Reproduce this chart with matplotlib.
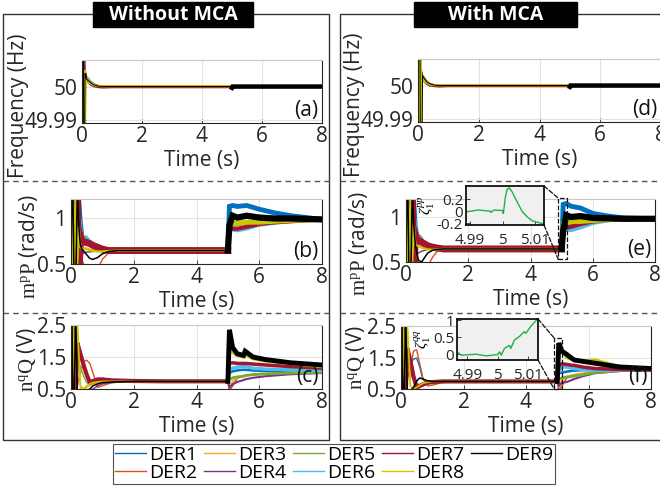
import matplotlib
matplotlib.use('Agg')
import matplotlib.pyplot as plt
from matplotlib.patches import Rectangle, ConnectionPatch
from matplotlib.lines import Line2D

plt.rcParams['font.family'] = ['Open Sans', 'DejaVu Sans']
plt.rcParams['mathtext.fontset'] = 'custom'
plt.rcParams['mathtext.rm'] = 'Liberation Serif'
plt.rcParams['mathtext.it'] = 'Liberation Serif:italic'

# ---------------- data ----------------
der_names = ['DER1', 'DER2', 'DER3', 'DER4', 'DER5', 'DER6', 'DER7', 'DER8', 'DER9']
der_colors = ['#0072BD', '#D95319', '#EDB120', '#7E2F8E', '#77AC30',
              '#4DBEEE', '#A2142F', '#C8C800', '#000000']

t_freq = [0, 0.02, 0.04, 0.06, 0.08, 0.10, 0.12, 0.15, 0.2, 0.25, 0.3, 0.4, 0.55, 0.7, 1.0, 4.98, 5.0, 5.02, 5.6, 8.0]

freq_without = [
    [50.0, 50.03, 49.97, 50.02, 49.99, 50.006, 50.004, 50.003, 50.0025, 50.002, 50.0015, 50.0008, 50.0003, 50.0, 50.0, 50.0, 50.0, 49.9998, 50.0, 50.0],
    [50.0, 49.97, 50.03, 49.98, 50.01, 50.004, 50.003, 50.0025, 50.002, 50.0015, 50.001, 50.0006, 50.0002, 50.0, 50.0, 50.0, 50.0, 50.0001, 50.0, 50.0],
    [50.0, 50.02, 49.975, 50.02, 49.995, 50.005, 50.004, 50.003, 50.0025, 50.002, 50.0012, 50.0006, 50.0002, 50.0001, 50.0001, 50.0001, 50.0, 49.9997, 50.0, 50.0],
    [50.0, 49.975, 50.025, 49.985, 50.008, 50.003, 50.003, 50.002, 50.0018, 50.0014, 50.001, 50.0005, 50.0002, 50.0, 50.0, 50.0, 50.0, 50.0, 50.0, 50.0],
    [50.0, 50.025, 49.98, 50.015, 49.995, 50.004, 50.0035, 50.003, 50.0024, 50.0018, 50.0012, 50.0006, 50.0002, 50.0, 50.0, 50.0, 50.0, 50.0002, 50.0, 50.0],
    [50.0, 49.98, 50.03, 49.99, 50.03, 50.005, 50.003, 50.0028, 50.0022, 50.0016, 50.001, 50.0005, 50.0002, 50.0, 50.0, 50.0, 50.0, 49.9998, 50.0, 50.0],
    [50.0, 50.02, 49.98, 50.01, 49.99, 50.004, 50.002, 50.002, 50.0015, 50.001, 50.0006, 50.0002, 49.9999, 49.9998, 49.9999, 49.9999, 50.0, 50.0, 50.0, 50.0],
    [49.97, 49.97, 50.003, 49.97, 50.005, 49.985, 50.002, 50.002, 50.0015, 50.001, 50.0008, 50.0004, 50.0002, 50.0001, 50.0001, 50.0001, 50.0, 49.9997, 50.0, 50.0],
    [50.03, 50.02, 50.03, 49.97, 49.97, 50.004, 50.003, 50.0022, 50.0018, 50.0015, 50.001, 50.0005, 50.0001, 50.0, 50.0, 50.0, 49.9996, 50.0, 50.0, 50.0],
]

freq_with = [
    [50.0, 50.03, 49.97, 50.02, 49.99, 50.006, 50.004, 50.003, 50.0025, 50.0018, 50.0012, 50.0006, 50.0002, 50.0, 50.0, 50.0, 50.0, 49.9998, 50.0, 50.0],
    [50.0, 49.97, 50.03, 49.98, 50.01, 50.004, 50.003, 50.0025, 50.002, 50.0014, 50.0009, 50.0005, 50.0001, 50.0, 50.0, 50.0, 50.0, 50.0001, 50.0, 50.0],
    [50.03, 50.02, 49.975, 50.03, 49.97, 50.005, 50.004, 50.003, 50.0025, 50.0018, 50.0011, 50.0005, 50.0001, 50.0001, 50.0001, 50.0001, 50.0, 49.9997, 50.0, 50.0],
    [50.0, 49.975, 50.025, 49.985, 50.008, 50.003, 50.003, 50.002, 50.0018, 50.0013, 50.0009, 50.0004, 50.0001, 50.0, 50.0, 50.0, 50.0, 50.0, 50.0, 50.0],
    [50.0, 50.025, 49.98, 50.015, 49.995, 50.004, 50.0035, 50.003, 50.0024, 50.0017, 50.0011, 50.0005, 50.0001, 50.0, 50.0, 50.0, 50.0, 50.0002, 50.0, 50.0],
    [50.0, 49.98, 50.03, 49.99, 50.03, 50.005, 50.003, 50.0028, 50.0022, 50.0015, 50.0009, 50.0004, 50.0001, 50.0, 50.0, 50.0, 50.0, 49.9998, 50.0, 50.0],
    [50.0, 50.02, 49.98, 50.01, 49.99, 50.004, 50.002, 50.002, 50.0015, 50.001, 50.0005, 50.0001, 49.9999, 49.9998, 49.9999, 49.9999, 50.0, 50.0, 50.0, 50.0],
    [49.97, 49.97, 50.03, 49.97, 50.03, 49.97, 50.002, 50.002, 50.0015, 50.001, 50.0007, 50.0003, 50.0001, 50.0001, 50.0001, 50.0001, 50.0, 49.9997, 50.0, 50.0],
    [50.03, 50.02, 50.03, 50.03, 49.97, 49.97, 49.97, 50.003, 50.0022, 50.0016, 50.001, 50.0005, 50.0001, 50.0, 50.0, 50.0, 49.9996, 50.0, 50.0, 50.0],
]

t_p = [0, 0.03, 0.06, 0.1, 0.15, 0.2, 0.25, 0.3, 0.35, 0.4, 0.5, 0.6, 0.7, 0.85, 1.0, 1.2, 1.5, 2.0, 3.0, 4.0, 4.95, 5.0,
       5.05, 5.15, 5.3, 5.6, 6.0, 6.5, 7.0, 7.5, 8.0]

mp_without = [
    [0.5, 1.3, 0.3, 1.25, 0.2, 1.3, 0.3, 1.2, 0.95, 0.8, 0.78, 0.74, 0.7, 0.67, 0.655, 0.65, 0.645, 0.645, 0.645, 0.645, 0.645, 0.645,
     1.12, 1.13, 1.12, 1.13, 1.09, 1.05, 1.02, 1.0, 0.98],
    [0.5, 0.2, 1.3, 0.3, 1.25, 0.2, 1.3, 0.5, 0.55, 0.5, 0.45, 0.42, 0.4, 0.45, 0.55, 0.62, 0.64, 0.645, 0.645, 0.645, 0.645, 0.645,
     0.93, 0.95, 0.95, 0.96, 0.97, 0.97, 0.975, 0.98, 0.98],
    [0.5, 1.25, 0.25, 1.3, 0.3, 1.1, 0.5, 0.75, 0.7, 0.68, 0.67, 0.66, 0.655, 0.65, 0.65, 0.648, 0.645, 0.645, 0.645, 0.645, 0.645, 0.645,
     0.92, 0.94, 0.95, 0.95, 0.96, 0.965, 0.97, 0.975, 0.98],
    [0.5, 0.3, 1.2, 0.2, 1.3, 0.4, 1.0, 0.55, 0.6, 0.62, 0.63, 0.63, 0.635, 0.64, 0.64, 0.645, 0.645, 0.645, 0.645, 0.645, 0.645, 0.645,
     0.9, 0.92, 0.93, 0.94, 0.95, 0.96, 0.97, 0.975, 0.98],
    [0.5, 1.2, 0.2, 1.3, 0.35, 1.25, 0.4, 0.9, 0.8, 0.79, 0.78, 0.75, 0.71, 0.68, 0.665, 0.65, 0.645, 0.645, 0.645, 0.645, 0.645, 0.645,
     0.9, 0.91, 0.92, 0.93, 0.95, 0.96, 0.97, 0.975, 0.98],
    [0.5, 0.25, 1.3, 0.35, 1.2, 0.3, 1.3, 1.0, 0.85, 0.8, 0.8, 0.76, 0.71, 0.68, 0.665, 0.65, 0.645, 0.645, 0.645, 0.645, 0.645, 0.645,
     0.88, 0.87, 0.86, 0.88, 0.92, 0.94, 0.96, 0.97, 0.98],
    [0.5, 1.3, 0.3, 1.2, 0.25, 1.2, 0.35, 0.8, 0.75, 0.74, 0.73, 0.72, 0.7, 0.68, 0.66, 0.645, 0.645, 0.645, 0.645, 0.645, 0.645, 0.645,
     0.89, 0.88, 0.88, 0.9, 0.93, 0.95, 0.96, 0.97, 0.98],
    [0.5, 0.2, 1.25, 0.25, 1.3, 0.5, 0.9, 0.68, 0.67, 0.66, 0.66, 0.65, 0.64, 0.635, 0.635, 0.64, 0.645, 0.645, 0.645, 0.645, 0.645, 0.645,
     0.93, 0.94, 0.94, 0.95, 0.95, 0.96, 0.97, 0.975, 0.98],
    [0.5, 1.3, 1.3, 0.2, 0.2, 1.3, 0.9, 0.7, 0.66, 0.64, 0.6, 0.56, 0.55, 0.57, 0.61, 0.635, 0.645, 0.645, 0.645, 0.645, 0.645, 0.645,
     0.92, 1.02, 1.0, 1.02, 1.0, 0.99, 0.99, 0.985, 0.98],
]

mp_with = [
    [0.5, 1.3, 0.3, 1.25, 0.2, 1.3, 0.3, 1.2, 0.9, 0.8, 0.76, 0.72, 0.68, 0.66, 0.65, 0.645, 0.645, 0.645, 0.645, 0.645, 0.645, 0.645,
     1.14, 1.15, 1.12, 1.1, 1.04, 1.01, 0.99, 0.985, 0.98],
    [0.5, 0.2, 1.3, 0.3, 1.25, 0.2, 1.3, 0.5, 0.52, 0.5, 0.46, 0.42, 0.45, 0.55, 0.62, 0.64, 0.645, 0.645, 0.645, 0.645, 0.645, 0.645,
     0.93, 0.95, 0.96, 0.97, 0.975, 0.98, 0.98, 0.98, 0.98],
    [0.5, 1.25, 0.25, 1.3, 0.3, 1.1, 0.5, 0.75, 0.7, 0.68, 0.66, 0.655, 0.65, 0.648, 0.645, 0.645, 0.645, 0.645, 0.645, 0.645, 0.645, 0.645,
     0.92, 0.94, 0.95, 0.96, 0.97, 0.975, 0.98, 0.98, 0.98],
    [0.5, 0.3, 1.2, 0.2, 1.3, 0.4, 1.0, 0.55, 0.58, 0.6, 0.62, 0.63, 0.64, 0.645, 0.645, 0.645, 0.645, 0.645, 0.645, 0.645, 0.645, 0.645,
     0.9, 0.92, 0.94, 0.95, 0.965, 0.975, 0.98, 0.98, 0.98],
    [0.5, 1.2, 0.2, 1.3, 0.35, 1.25, 0.4, 0.9, 0.82, 0.81, 0.78, 0.72, 0.68, 0.66, 0.65, 0.645, 0.645, 0.645, 0.645, 0.645, 0.645, 0.645,
     0.9, 0.91, 0.92, 0.94, 0.96, 0.97, 0.98, 0.98, 0.98],
    [0.5, 0.25, 1.3, 0.35, 1.2, 0.3, 1.3, 1.0, 0.85, 0.8, 0.76, 0.72, 0.68, 0.66, 0.65, 0.645, 0.645, 0.645, 0.645, 0.645, 0.645, 0.645,
     0.87, 0.86, 0.85, 0.88, 0.93, 0.96, 0.975, 0.98, 0.98],
    [0.5, 1.3, 0.3, 1.2, 0.25, 1.2, 0.35, 0.8, 0.75, 0.74, 0.72, 0.7, 0.68, 0.665, 0.655, 0.645, 0.645, 0.645, 0.645, 0.645, 0.645, 0.645,
     0.88, 0.88, 0.89, 0.92, 0.95, 0.97, 0.975, 0.98, 0.98],
    [0.5, 0.2, 1.25, 0.25, 1.3, 0.5, 0.9, 0.7, 0.68, 0.68, 0.66, 0.65, 0.64, 0.635, 0.64, 0.645, 0.645, 0.645, 0.645, 0.645, 0.645, 0.645,
     0.93, 0.94, 0.95, 0.95, 0.96, 0.97, 0.98, 0.98, 0.98],
    [0.5, 1.3, 1.3, 0.2, 0.2, 1.3, 0.9, 0.7, 0.6, 0.52, 0.5, 0.55, 0.6, 0.63, 0.64, 0.645, 0.645, 0.645, 0.645, 0.645, 0.645, 0.645,
     0.85, 1.02, 1.0, 1.01, 0.99, 0.985, 0.98, 0.98, 0.98],
]

t_q = [0, 0.03, 0.06, 0.1, 0.15, 0.2, 0.3, 0.4, 0.5, 0.6, 0.7, 0.85, 1.0, 1.3, 2.0, 3.0, 4.0, 4.95, 5.0,
       5.05, 5.15, 5.3, 5.5, 5.55, 5.8, 6.2, 7.0, 8.0]

nq_without = [
    [0.5, 2.8, 0.3, 2.7, 0.3, 1.7, 1.55, 1.25, 1.0, 0.8, 0.72, 0.7, 0.72, 0.74, 0.74, 0.74, 0.74, 0.74, 0.74,
     1.0, 1.05, 1.08, 1.1, 1.1, 1.08, 1.06, 1.05, 1.05],
    [0.5, 0.3, 2.8, 0.3, 2.7, 0.6, 1.0, 1.35, 1.4, 1.3, 1.0, 0.55, 0.6, 0.7, 0.74, 0.74, 0.74, 0.74, 0.74,
     0.45, 0.6, 0.84, 0.9, 0.92, 0.95, 0.97, 1.0, 1.05],
    [0.5, 2.7, 0.3, 2.8, 0.3, 2.6, 0.5, 0.45, 0.55, 0.6, 0.65, 0.68, 0.7, 0.72, 0.74, 0.74, 0.74, 0.74, 0.74,
     0.5, 0.75, 0.85, 0.9, 0.92, 0.95, 0.98, 1.02, 1.05],
    [0.5, 0.3, 2.7, 0.3, 2.8, 0.4, 0.45, 0.5, 0.45, 0.45, 0.5, 0.6, 0.66, 0.7, 0.74, 0.74, 0.74, 0.74, 0.74,
     0.55, 0.65, 0.72, 0.78, 0.8, 0.85, 0.9, 0.96, 1.0],
    [0.5, 2.8, 0.3, 2.8, 0.4, 1.4, 1.2, 0.9, 0.7, 0.65, 0.68, 0.72, 0.74, 0.74, 0.74, 0.74, 0.74, 0.74, 0.74,
     0.8, 0.85, 0.88, 0.9, 0.92, 0.95, 0.97, 1.0, 1.02],
    [0.5, 0.3, 2.8, 0.4, 2.7, 1.75, 1.7, 1.4, 1.0, 0.75, 0.7, 0.72, 0.74, 0.74, 0.74, 0.74, 0.74, 0.74, 0.74,
     1.1, 1.15, 1.18, 1.2, 1.2, 1.15, 1.12, 1.1, 1.08],
    [0.5, 2.8, 0.3, 2.7, 0.3, 1.95, 1.6, 1.25, 0.95, 0.7, 0.75, 0.8, 0.8, 0.77, 0.75, 0.74, 0.74, 0.74, 0.74,
     1.3, 1.32, 1.3, 1.3, 1.3, 1.28, 1.25, 1.2, 1.15],
    [0.5, 0.3, 2.7, 0.3, 2.8, 2.6, 0.6, 0.5, 0.6, 0.66, 0.7, 0.72, 0.74, 0.74, 0.74, 0.74, 0.74, 0.74, 0.74,
     1.7, 1.65, 1.55, 1.5, 1.58, 1.45, 1.38, 1.3, 1.2],
    [2.8, 2.8, 0.3, 0.3, 2.8, 0.3, 0.4, 0.45, 0.45, 0.5, 0.6, 0.66, 0.7, 0.72, 0.74, 0.74, 0.74, 0.74, 0.74,
     2.35, 1.8, 1.6, 1.55, 1.68, 1.5, 1.42, 1.32, 1.25],
]

nq_with = [
    [0.5, 2.8, 0.3, 2.7, 0.3, 1.2, 1.3, 1.45, 1.48, 1.2, 0.8, 0.7, 0.72, 0.74, 0.74, 0.74, 0.74, 0.74, 0.74,
     1.0, 1.02, 1.05, 1.08, 1.08, 1.1, 1.1, 1.1, 1.1],
    [0.5, 0.3, 2.8, 0.3, 2.7, 0.8, 1.2, 1.7, 1.75, 1.3, 0.85, 0.6, 0.62, 0.7, 0.74, 0.74, 0.74, 0.74, 0.74,
     0.45, 0.6, 0.85, 0.92, 0.94, 0.97, 1.02, 1.08, 1.1],
    [0.5, 2.7, 0.3, 2.8, 0.3, 2.5, 0.6, 0.5, 0.55, 0.6, 0.66, 0.7, 0.72, 0.74, 0.74, 0.74, 0.74, 0.74, 0.74,
     0.55, 0.8, 0.9, 0.95, 0.96, 1.0, 1.05, 1.08, 1.1],
    [0.5, 0.3, 2.7, 0.3, 2.8, 0.4, 0.45, 0.45, 0.5, 0.55, 0.6, 0.66, 0.7, 0.72, 0.74, 0.74, 0.74, 0.74, 0.74,
     0.6, 0.7, 0.72, 0.8, 0.82, 0.9, 1.0, 1.07, 1.1],
    [0.5, 2.8, 0.3, 2.8, 0.4, 1.3, 1.0, 0.8, 0.65, 0.62, 0.66, 0.7, 0.72, 0.74, 0.74, 0.74, 0.74, 0.74, 0.74,
     0.82, 0.85, 0.88, 0.9, 0.92, 0.95, 1.02, 1.08, 1.1],
    [0.5, 0.3, 2.8, 0.4, 2.7, 1.7, 1.2, 0.9, 0.7, 0.62, 0.66, 0.7, 0.72, 0.74, 0.74, 0.74, 0.74, 0.74, 0.74,
     1.1, 1.2, 1.2, 1.15, 1.15, 1.12, 1.1, 1.1, 1.1],
    [0.5, 2.8, 0.3, 2.7, 0.3, 1.8, 1.4, 0.9, 0.55, 0.6, 0.65, 0.7, 0.72, 0.74, 0.74, 0.74, 0.74, 0.74, 0.74,
     1.25, 1.3, 1.28, 1.25, 1.25, 1.2, 1.15, 1.12, 1.1],
    [0.5, 0.3, 2.7, 0.3, 2.8, 2.6, 0.6, 0.5, 0.55, 0.62, 0.68, 0.72, 0.74, 0.74, 0.74, 0.74, 0.74, 0.74, 0.74,
     1.85, 1.75, 1.5, 1.45, 1.42, 1.38, 1.42, 1.2, 1.12],
    [2.8, 2.8, 0.3, 0.3, 2.8, 0.3, 0.45, 0.55, 0.75, 0.85, 0.82, 0.76, 0.74, 0.74, 0.74, 0.74, 0.74, 0.74, 0.74,
     1.96, 1.7, 1.6, 1.45, 1.42, 1.38, 1.32, 1.2, 1.15],
]

t_zeta_p = [4.9889, 4.9926, 4.9962, 4.9964, 4.9973, 5.0, 5.0002, 5.0008, 5.0013, 5.002, 5.0029, 5.0044,
            5.006, 5.0075, 5.009, 5.0117, 5.0126]
zeta_p = [-0.01, 0.02, 0.0, -0.02, 0.02, 0.01, -0.04, 0.23, 0.36, 0.39, 0.32, 0.155, -0.01, -0.095, -0.16, -0.2, -0.21]

t_zeta_q = [4.9869, 4.988, 4.9929, 4.9962, 5.0, 5.0006, 5.0011, 5.0022, 5.0038, 5.0043, 5.0054, 5.007,
            5.0087, 5.0092, 5.0108, 5.0127]
zeta_q = [0.05, -0.03, 0.0, -0.05, -0.01, 0.07, -0.03, 0.17, 0.26, 0.17, 0.41, 0.51, 0.66, 0.61, 0.81, 1.0]

zoom_box_e = [4.89, 5.18, 0.53, 1.21]
zoom_box_f = [4.90, 5.15, 0.50, 2.12]

time_ticks = [0, 2, 4, 6, 8]
freq_ticks = [49.99, 50]
freq_ticklabels = ['49.99', '50']
mp_ticks = [0.5, 1]
mp_ticklabels = ['0.5', '1']
nq_ticks = [0.5, 1.5, 2.5]
nq_ticklabels = ['0.5', '1.5', '2.5']

# ---------------- layout ----------------
W, H = 660, 491
fig = plt.figure(figsize=(W / 100, H / 100), dpi=100)
fig.patch.set_facecolor('white')


def px_axes(l, t, r, b):
    return fig.add_axes([l / W, 1 - b / H, (r - l) / W, (b - t) / H])


FS = 15


def style_axes(ax, ylim, yticks, yticklabels):
    ax.set_xlim(0, 8)
    ax.set_ylim(*ylim)
    ax.set_xticks(time_ticks)
    ax.set_xticklabels([str(v) for v in time_ticks])
    ax.set_yticks(yticks)
    ax.set_yticklabels(yticklabels)
    ax.grid(True, color='#e3e3e3', lw=0.8)
    ax.set_axisbelow(True)
    for s in ['left', 'bottom', 'right']:
        ax.spines[s].set_color('#262626')
        ax.spines[s].set_linewidth(0.8)
    ax.spines['top'].set_color('#c8c8c8')
    ax.spines['top'].set_linewidth(0.8)
    ax.tick_params(direction='in', length=3, width=0.6, labelsize=FS, colors='#262626')
    ax.tick_params(axis='x', pad=2.5)
    ax.tick_params(axis='y', pad=3.5)
    ax.set_xlabel('Time (s)', fontsize=FS, color='#262626', labelpad=2)


def plot_series(ax, t, data, lw_pre, lw_post):
    n_pre = sum(1 for v in t if v <= 5.0)
    for k in range(9):
        ax.plot(t[:n_pre], data[k][:n_pre], color=der_colors[k], lw=lw_pre[k], solid_joinstyle='miter')
    for k in range(9):
        ax.plot(t[n_pre - 1:], data[k][n_pre - 1:], color=der_colors[k], lw=lw_post[k], solid_joinstyle='miter')


lw_f_pre = [1, 1, 1.4, 1, 1, 1, 2.0, 1.5, 0.7]
lw_f_post = [1, 1, 1, 1, 1, 1, 1, 1, 3.2]
lw_p_pre = [1, 1, 1, 1, 1, 1, 5, 1.6, 1.1]
lw_p_post = [3.5, 1.2, 1.5, 1.2, 1.5, 2.5, 3.0, 3.5, 4.5]
lw_q_pre = [1, 1, 1, 1, 1, 1, 3, 1.2, 1.1]
lw_q_post = [1.8, 1.2, 1.2, 1.5, 2.0, 2.5, 2.5, 2.5, 3.5]

panels = {
    'a': (82, 60, 322, 123),
    'b': (71, 199, 322, 264),
    'c': (71, 325, 322, 389),
    'd': (418, 59, 661, 122),
    'e': (406, 199, 655, 262),
    'f': (401, 326, 651, 389),
}

ax_a = px_axes(*panels['a'])
ax_b = px_axes(*panels['b'])
ax_c = px_axes(*panels['c'])
ax_d = px_axes(*panels['d'])
ax_e = px_axes(*panels['e'])
ax_f = px_axes(*panels['f'])

plot_series(ax_a, t_freq, freq_without, lw_f_pre, lw_f_post)
plot_series(ax_d, t_freq, freq_with, lw_f_pre, lw_f_post)
plot_series(ax_b, t_p, mp_without, lw_p_pre, lw_p_post)
plot_series(ax_e, t_p, mp_with, lw_p_pre, lw_p_post)
plot_series(ax_c, t_q, nq_without, lw_q_pre, lw_q_post)
plot_series(ax_f, t_q, nq_with, lw_q_pre, lw_q_post)

for ax in (ax_a, ax_d):
    style_axes(ax, (49.989, 50.008), freq_ticks, freq_ticklabels)
for ax in (ax_b, ax_e):
    style_axes(ax, (0.5, 1.2), mp_ticks, mp_ticklabels)
for ax in (ax_c, ax_f):
    style_axes(ax, (0.5, 2.5), nq_ticks, nq_ticklabels)

# y labels
ylab = [
    (ax_a, 'Frequency (Hz)', 29, 106),
    (ax_d, 'Frequency (Hz)', 365, 105),
    (ax_b, r'$\mathrm{m^pP}$ (rad/s)', 40, 246),
    (ax_e, r'$\mathrm{m^pP}$ (rad/s)', 370, 243),
    (ax_c, r'$\mathrm{n^qQ}$ (V)', 38, 360),
    (ax_f, r'$\mathrm{n^qQ}$ (V)', 367, 358),
]
for ax, txt, x, y in ylab:
    ax.set_ylabel(txt, fontsize=FS, color='#262626')
    ax.yaxis.set_label_coords(x / W, 1 - y / H, transform=fig.transFigure)

for ax, lab in [(ax_a, '(a)'), (ax_b, '(b)'), (ax_c, '(c)'), (ax_d, '(d)'), (ax_e, '(e)'), (ax_f, '(f)')]:
    ax.text(0.985, 0.03, lab, transform=ax.transAxes, ha='right', va='bottom', fontsize=FS, color='#111111')


# insets
def make_inset(box, t, z, xlim, ylim, yticks, yticklabels, ylabel, main_ax, zbox):
    ins = px_axes(*box)
    ins.set_facecolor('#f0f0f0')
    ins.plot(t, z, color='#22b04b', lw=1.0)
    ins.set_xlim(*xlim)
    ins.set_ylim(*ylim)
    ins.set_xticks([4.99, 5.0, 5.01])
    ins.set_xticklabels(['4.99', '5', '5.01'])
    ins.set_yticks(yticks)
    ins.set_yticklabels(yticklabels)
    for s in ins.spines.values():
        s.set_color('#111111')
        s.set_linewidth(1.3)
    ins.tick_params(direction='in', length=3, width=0.6, labelsize=11, colors='#262626')
    ins.tick_params(axis='x', pad=6)
    ins.tick_params(axis='y', pad=2)
    ins.set_ylabel(ylabel, fontsize=11, labelpad=0)
    x0, x1, y0, y1 = zbox
    main_ax.add_patch(Rectangle((x0, y0), x1 - x0, y1 - y0, fill=False, ls='--', ec='#111111',
                                lw=0.9, clip_on=False, zorder=5))
    for (ia, mb) in [((1, 1), (x0, y1)), ((1, 0), (x0, y0))]:
        cp = ConnectionPatch(xyA=ia, coordsA=ins.transAxes, xyB=mb, coordsB=main_ax.transData,
                             ls='--', color='#111111', lw=0.9)
        fig.add_artist(cp)
    return ins


make_inset((466, 186, 544, 225), t_zeta_p, zeta_p, (4.9888, 5.0126), (-0.23, 0.42),
           [-0.2, 0, 0.2], ['-0.2', '0', '0.2'], r'$\zeta_1^{pp}$', ax_e, zoom_box_e)
make_inset((457, 319, 538, 360), t_zeta_q, zeta_q, (4.9866, 5.0132), (-0.17, 1.03),
           [0, 0.5, 1], ['0', '0.5', '1'], r'$\zeta_1^{qq}$', ax_f, zoom_box_f)

# panel frames, separators, titles
fig.add_artist(Rectangle((3 / W, 1 - 440 / H), 326 / W, 426 / H, transform=fig.transFigure,
                         fill=False, ec='#333333', lw=1.0))
fig.add_artist(Rectangle((340 / W, 1 - 440 / H), 330 / W, 426 / H, transform=fig.transFigure,
                         fill=False, ec='#333333', lw=1.0))
for y in (181, 313):
    fig.add_artist(Line2D([3 / W, 329 / W], [1 - y / H, 1 - y / H], transform=fig.transFigure,
                          color='#555555', lw=1.0, ls=(0, (4, 3))))
    fig.add_artist(Line2D([340 / W, 660 / W], [1 - y / H, 1 - y / H], transform=fig.transFigure,
                          color='#555555', lw=1.0, ls=(0, (4, 3))))

for (l, r, txt) in [(93, 253, 'Without MCA'), (414, 577, 'With MCA')]:
    fig.add_artist(Rectangle((l / W, 1 - 27 / H), (r - l) / W, 25 / H, transform=fig.transFigure,
                             fc='black', ec='black'))
    fig.text((l + r) / 2 / W, 1 - 14.5 / H, txt, color='white', fontsize=14, fontweight='bold',
             ha='center', va='center')

# legend
handles = [Line2D([], [], color=c, lw=1.0) for c in der_colors]
leg = fig.legend(handles, der_names, loc='upper left', bbox_to_anchor=(113 / W, 1 - 444 / H),
                 ncol=5, fontsize=14, frameon=True, fancybox=False, borderpad=0.1,
                 labelspacing=0.0, handlelength=1.6, handletextpad=0.15, columnspacing=0.35,
                 borderaxespad=0)
leg.get_frame().set_edgecolor('#262626')
leg.get_frame().set_linewidth(0.8)

fig.savefig('out.png', dpi=100)
